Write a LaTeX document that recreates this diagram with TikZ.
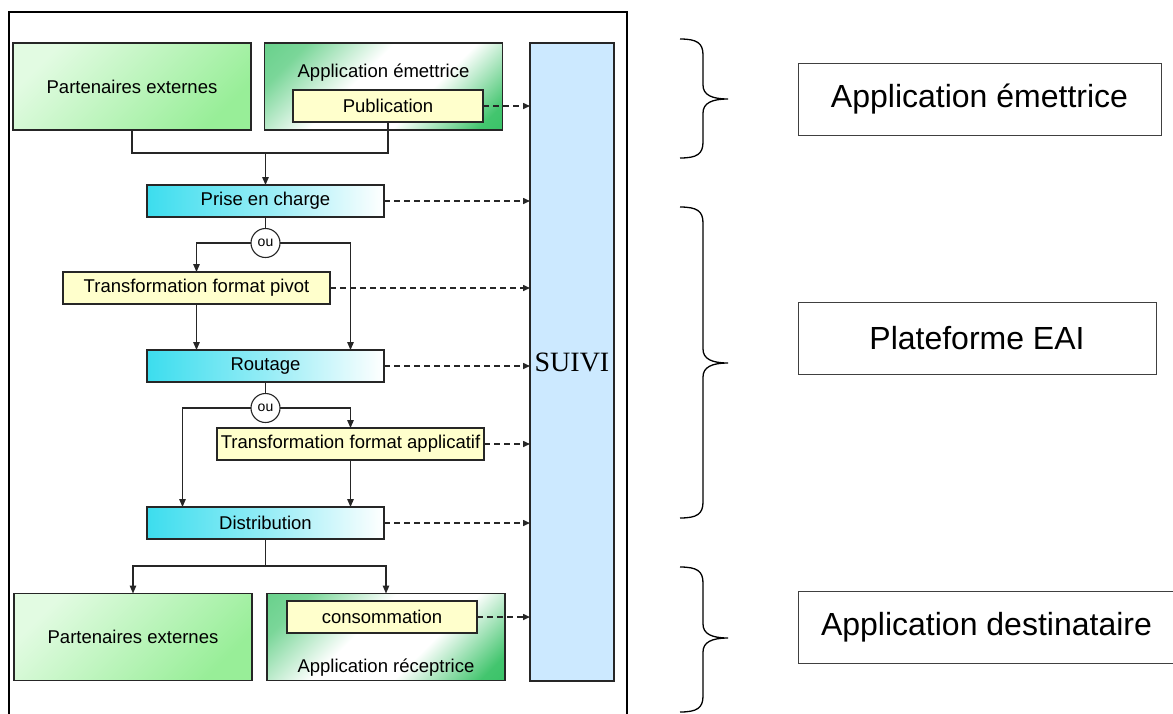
\documentclass[tikz,border=0pt]{standalone}
\usepackage{fontspec}
\setmainfont{Liberation Sans}
\newfontfamily\suivifont{Liberation Serif}
\usetikzlibrary{arrows.meta,calc}

\definecolor{palegreen}{HTML}{E2FBE2}
\definecolor{deepgreen}{HTML}{98EE98}
\definecolor{appgreen}{HTML}{22BB55}
\definecolor{stepcyan}{HTML}{3CDDEE}
\definecolor{noteyellow}{HTML}{FFFFCC}
\definecolor{trackblue}{HTML}{CCE9FF}
\definecolor{edgegray}{HTML}{262626}

% green corners, white diagonal band
\pgfdeclareverticalshading{appshade}{100bp}{%
  color(0bp)=(appgreen); color(20bp)=(appgreen!85!white); color(39bp)=(white);
  color(57bp)=(white); color(76bp)=(appgreen!60!white); color(100bp)=(appgreen!80!white)}
% cyan fading to white
\pgfdeclarehorizontalshading{stageshade}{100bp}{%
  color(0bp)=(stepcyan); color(25bp)=(stepcyan); color(50bp)=(stepcyan!55!white);
  color(75bp)=(white); color(100bp)=(white)}

\begin{document}
\begin{tikzpicture}[x=1pt,y=-1pt,
  box/.style={draw=edgegray, line width=1.2pt, rectangle, inner sep=0pt, outer sep=0pt,
    font=\fontsize{18.5}{22}\selectfont},
  partner/.style={box, top color=palegreen, bottom color=deepgreen, shading angle=45,
    minimum width=238pt, minimum height=87pt},
  appbox/.style={box, shading=appshade, shading angle=45, minimum width=238pt, minimum height=87pt},
  stage/.style={box, shading=stageshade, minimum width=237pt, minimum height=32pt},
  task/.style={box, fill=noteyellow, minimum height=32pt},
  orgate/.style={draw=edgegray, line width=1.1pt, fill=white, circle, minimum size=29pt,
    inner sep=0pt, outer sep=0pt, font=\fontsize{14}{16}\selectfont},
  plain/.style={inner sep=0pt, font=\fontsize{18.5}{22}\selectfont},
  link/.style={line width=1.3pt, draw=edgegray},
  flow/.style={link, -{Triangle[length=8pt,width=6.5pt]}},
  track/.style={link, line width=1.5pt, dash pattern=on 6pt off 4pt, -{Triangle[length=7pt,width=6pt]}},
  brace/.style={line width=1.3pt, draw=black},
  scopebox/.style={draw=black!75, line width=1pt, fill=white, inner sep=0pt, outer sep=0pt,
    minimum height=72pt, font=\fontsize{32}{38}\selectfont}
]
\useasboundingbox (0,0) rectangle (1173,713);

% frame of the integration chain
\draw[line width=1.6pt] (9,730) -- (9,12) -- (627,12) -- (627,730);

% tracking column
\node[draw=edgegray, line width=1.2pt, fill=trackblue, minimum width=84pt, minimum height=638pt,
  inner sep=0pt, outer sep=0pt] (suivi) at (572,362) {\suivifont\fontsize{28}{32}\selectfont SUIVI};

% sources
\node[partner] (extIn) at (132,86.5) {Partenaires externes};
\node[appbox] (emit) at (383.5,86.5) {};
\node[plain, anchor=base] (emitlbl) at (383.5,77) {Application émettrice};
\node[task, minimum width=190pt] (pub) at (388,106) {Publication};

% EAI platform steps
\node[stage] (prise) at (265.5,201) {Prise en charge};
\node[orgate] (ou1) at (265.5,243) {ou};
\node[task, minimum width=267pt] (pivot) at (196.5,288) {Transformation format pivot};
\node[stage] (route) at (265.5,366) {Routage};
\node[orgate] (ou2) at (265.5,408) {ou};
\node[task, minimum width=267pt] (appfmt) at (350.5,444) {Transformation format applicatif};
\node[stage] (distrib) at (265.5,523) {Distribution};

% targets
\node[partner] (extOut) at (133,637) {Partenaires externes};
\node[appbox] (recv) at (386,637) {};
\node[task, minimum width=190pt] (conso) at (382,617) {consommation};
\node[plain, anchor=base] (recvlbl) at (386,672) {Application réceptrice};

% main flow
\coordinate (joinTop) at (265.5,153);
\coordinate (bypass) at (182.5,0);
\coordinate (split) at (265.5,566);
\draw[link] (extIn.south) |- (joinTop) -| (pub.south);
\draw[flow] (joinTop) -- (prise.north);
\draw[link] (prise.south) -- (ou1.north);
\draw[flow] (ou1.west) -| (pivot.north);
\draw[flow] (ou1.east) -| (route.north -| appfmt.north);
\draw[flow] (pivot.south) -- (route.north -| pivot.south);
\draw[link] (route.south) -- (ou2.north);
\draw[flow] (ou2.west) -| (distrib.north -| bypass);
\draw[flow] (ou2.east) -| (appfmt.north);
\draw[flow] (appfmt.south) -- (distrib.north -| appfmt.south);
\draw[link] (distrib.south) -- (split);
\draw[flow] (split) -| (extOut.north);
\draw[flow] (split) -| (recv.north);

% tracking events
\draw[track] (pub.east) -- (pub.east -| suivi.west);
\draw[track] (prise.east) -- (prise.east -| suivi.west);
\draw[track] (pivot.east) -- (pivot.east -| suivi.west);
\draw[track] (route.east) -- (route.east -| suivi.west);
\draw[track] (appfmt.east) -- (appfmt.east -| suivi.west);
\draw[track] (distrib.east) -- (distrib.east -| suivi.west);
\draw[track] (conso.east) -- (conso.east -| suivi.west);

% braces grouping the zones
\draw[brace] (680,39) .. controls (697,39) and (703,43) .. (703,55) -- (703,85)
  .. controls (703,95) and (712,99) .. (728,99) .. controls (712,99) and (703,103) .. (703,113)
  -- (703,142) .. controls (703,154) and (697,158) .. (680,158);
\draw[brace] (680,207) .. controls (697,207) and (703,211) .. (703,223) -- (703,349)
  .. controls (703,359) and (712,363) .. (728,363) .. controls (712,363) and (703,367) .. (703,377)
  -- (703,502) .. controls (703,514) and (697,518) .. (680,518);
\draw[brace] (680,567) .. controls (697,567) and (703,571) .. (703,583) -- (703,624)
  .. controls (703,634) and (712,638) .. (728,638) .. controls (712,638) and (703,642) .. (703,652)
  -- (703,696) .. controls (703,708) and (697,712) .. (680,712);

% zone names
\node[scopebox, minimum width=363pt] (zoneEmit) at (979.5,99) {Application émettrice};
\node[scopebox, minimum width=358pt] (zoneEAI) at (977,338.5) {Plateforme EAI};
\node[scopebox, minimum width=400pt, anchor=west] (zoneDest) at (798,627) {};
\node[inner sep=0pt, font=\fontsize{32}{38}\selectfont] (zoneDestLbl) at (986.5,627) {Application destinataire};
\end{tikzpicture}
\end{document}
